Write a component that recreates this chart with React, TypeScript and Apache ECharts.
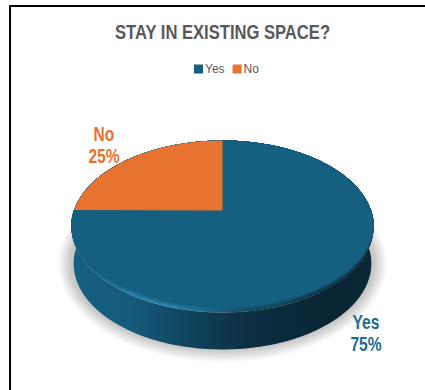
import React, { useEffect, useRef } from "react";
import * as echarts from "echarts";

const categories = ["Yes", "No"];
const shares = [75, 25];
const sliceColors = ["#155f80", "#e8722f"];
const labelColors = ["#1f6c92", "#e8722f"];
const chartTitle = "STAY IN EXISTING SPACE?";

const FONT = "'Liberation Sans', Arial, sans-serif";
const total = shares.reduce((a, b) => a + b, 0);

// Tilted disc: a unit circle seen through a simple perspective projection.
const CX = 222.5;
const APEX_Y = 210.5;
const RX = 148.5;
const DEPTH_A = 83;
const DEPTH_B = -0.186;
const WALL = 37;
const RIM_MID_Y = 227;
const RIM_RY = 86;
const BEVEL = 5.5;

type Pt = [number, number];

function project(theta: number, rimInset = 0): Pt {
  const u = Math.sin(theta);
  const v = -Math.cos(theta);
  const w = 1 + DEPTH_B * v;
  const y = APEX_Y + (DEPTH_A * v) / w;
  const front = Math.max(0, v + 0.02);
  return [CX + (RX * u) / w, y - rimInset * Math.pow(front, 0.6)];
}

function arc(from: number, to: number, inset = 0, steps = 120): Pt[] {
  const pts: Pt[] = [];
  for (let i = 0; i <= steps; i++) pts.push(project(from + ((to - from) * i) / steps, inset));
  return pts;
}

function shifted(pts: Pt[], dy: number, scale = 1): Pt[] {
  return pts.map(([x, y]) => [CX + (x - CX) * scale, y + dy] as Pt);
}

function hGradient(stops: [number, string][]) {
  return new echarts.graphic.LinearGradient(
    0,
    0,
    1,
    0,
    stops.map(([offset, color]) => ({ offset, color }))
  );
}

function hex(c: number[]) {
  return "#" + c.map((n) => Math.round(n).toString(16).padStart(2, "0")).join("");
}
function rgb(s: string) {
  return [1, 3, 5].map((i) => parseInt(s.slice(i, i + 2), 16));
}
function mix(a: string, b: string, t: number) {
  const A = rgb(a);
  const B = rgb(b);
  return hex(A.map((n, i) => n + (B[i] - n) * t));
}

const rimStops: [number, string][] = [
  [0, "#155f80"],
  [0.07, "#19668b"],
  [0.2, "#2b84ac"],
  [0.34, "#2d86ae"],
  [0.46, "#1d6a8e"],
  [0.56, "#114a64"],
  [0.8, "#0b2c3e"],
  [1, "#0a2a3a"],
];

const wallFill = () =>
  hGradient([
    [0, "#155f82"],
    [0.2, "#145a7a"],
    [0.42, "#0f4058"],
    [0.58, "#0c2f42"],
    [0.85, "#0a2534"],
    [1, "#0a2838"],
  ]);

function discBody() {
  const children: any[] = [];
  const whole = arc(0, Math.PI * 2, 0, 240);

  // soft ground shadow, built from concentric translucent outlines
  const shadowSteps = 14;
  for (let i = shadowSteps; i >= 1; i--) {
    const grow = 13 * (i / shadowSteps);
    const sx = (RX + grow) / RX;
    const sy = (RIM_RY + grow) / RIM_RY;
    const midY = RIM_MID_Y + WALL;
    children.push({
      type: "polygon",
      shape: {
        points: shifted(whole, WALL).map(
          ([x, y]) => [CX + (x - CX) * sx, midY + (y - midY) * sy] as Pt
        ),
      },
      style: { fill: "rgba(0,0,0,0.014)" },
      silent: true,
    });
  }

  // side wall, from one widest point of the rim round the front to the other
  const start = Math.PI / 2 - 0.19;
  const end = Math.PI * 1.5 + 0.19;
  const topEdge = arc(start, end, 0, 160);
  const bottomEdge = shifted(arc(start, end, 0, 160), WALL, 0.985).reverse();
  children.push({
    type: "polygon",
    shape: { points: [...topEdge, ...bottomEdge] },
    style: { fill: wallFill() },
    silent: true,
  });

  // bevel round the front of the top face, blending from rim colours into the face colour
  const layers = 10;
  for (let i = 0; i < layers; i++) {
    const t = i / layers;
    children.push({
      type: "polygon",
      shape: { points: arc(0, Math.PI * 2, t * BEVEL, 240) },
      style: {
        fill: hGradient(rimStops.map(([o, c]) => [o, mix(c, sliceColors[0], t)] as [number, string])),
      },
      silent: true,
    });
  }
  return children;
}

function wedge(index: number) {
  const before = shares.slice(0, index).reduce((a, b) => a + b, 0);
  const a0 = (before / total) * Math.PI * 2;
  const a1 = ((before + shares[index]) / total) * Math.PI * 2;
  return {
    type: "polygon",
    shape: { points: [[CX, APEX_Y], ...arc(a0, a1, BEVEL, 200)] },
    style: { fill: sliceColors[index] },
    silent: true,
  };
}

const labelAnchors: Pt[] = [
  [366, 311],
  [104, 123],
];

function sliceLabel(index: number, value: number) {
  const [x, y] = labelAnchors[index];
  return {
    type: "text",
    silent: true,
    x,
    y,
    scaleX: 0.8,
    style: {
      text: `${categories[index]}\n${value}%`,
      fill: labelColors[index],
      font: `bold 19.5px ${FONT}`,
      lineHeight: 22,
      align: "center",
      verticalAlign: "top",
    },
  };
}

const renderSlice = (index: number) => (_params: any, api: any) => {
  const value = api.value(0);
  const children: any[] = index === 0 ? discBody() : [];
  children.push(wedge(index));
  children.push(sliceLabel(index, value));
  return { type: "group", children };
};

export default function App() {
  const ref = useRef<HTMLDivElement>(null);

  useEffect(() => {
    const chart = echarts.init(ref.current!, undefined, { renderer: "svg" });
    chart.setOption({
      animation: false,
      backgroundColor: "#ffffff",
      legend: {
        data: categories,
        left: 189,
        top: 58,
        itemWidth: 9,
        itemHeight: 9,
        itemGap: 8,
        icon: "rect",
        textStyle: {
          fontFamily: FONT,
          fontSize: 12,
          color: "#595959",
          padding: [0, 0, 0, -3],
        },
      },
      series: categories.map((name, i) => ({
        type: "custom",
        name,
        coordinateSystem: "none",
        data: [[shares[i]]],
        itemStyle: { color: sliceColors[i] },
        renderItem: renderSlice(i),
        z: i + 1,
      })),
      graphic: [
        {
          type: "text",
          silent: true,
          x: 222.5,
          y: 22,
          scaleX: 0.83,
          style: {
            text: chartTitle,
            fill: "#595959",
            font: `bold 20px ${FONT}`,
            align: "center",
            verticalAlign: "top",
          },
        },
        {
          type: "rect",
          silent: true,
          shape: { x: 10, y: 6, width: 420, height: 400 },
          style: { fill: "none", stroke: "#000000", lineWidth: 2 },
          z: 100,
        },
      ],
    });
    return () => chart.dispose();
  }, []);

  return (
    <div
      ref={ref}
      style={{ position: "fixed", left: 0, top: 0, width: 425, height: 390 }}
    />
  );
}
